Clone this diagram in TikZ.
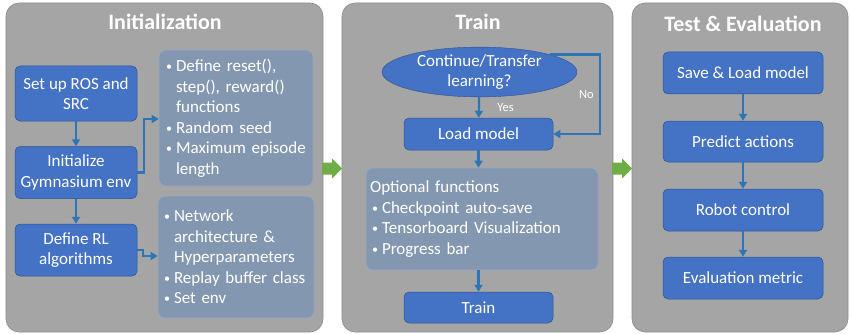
\documentclass[tikz,border=0pt]{standalone}
\usepackage{fontspec}
\setmainfont{Carlito}
\usepackage{tikz}
\usetikzlibrary{shapes.geometric,arrows.meta}

\definecolor{panelgray}{HTML}{A5A5A5}
\definecolor{paneledge}{HTML}{8C8C8C}
\definecolor{stepblue}{HTML}{4472C4}
\definecolor{stepedge}{HTML}{2F528F}
\definecolor{notegray}{HTML}{8497B0}
\definecolor{noteedge}{HTML}{9AA8BC}
\definecolor{linkblue}{HTML}{2E75B6}
\definecolor{flowgreen}{HTML}{70AD47}

\newcommand{\itm}[1]{\makebox[15pt][l]{\hspace{5pt}\raisebox{1pt}{\fontsize{12}{12}\selectfont\textbullet}}#1}
\newcommand{\cnt}{\hspace*{15pt}}

\tikzset{
  panel/.style={draw=paneledge, fill=panelgray, rounded corners=13pt, line width=0.6pt},
  ptitle/.style={text=white, font=\fontsize{22}{26}\selectfont\bfseries},
  stepbox/.style={draw=stepedge, fill=stepblue, rounded corners=5pt, text=white, align=center,
    inner sep=0pt, font=\fontsize{17}{20.5}\selectfont, line width=0.5pt},
  notebox/.style={draw=noteedge, fill=notegray, rounded corners=7pt, text=white, align=left,
    inner sep=0pt, font=\fontsize{17}{20.5}\selectfont, line width=0.6pt},
  conn/.style={draw=linkblue, line width=2.2pt, -{Triangle[length=7pt,width=8pt]}},
  lbl/.style={text=white, font=\fontsize{12.5}{15}\selectfont},
  flow/.style={fill=flowgreen},
}

\begin{document}
\begin{tikzpicture}[x=1pt, y=-1pt]
    \useasboundingbox (0, 0) rectangle (850, 334);

    % panels
    \node [panel, minimum width=317pt, minimum height=329pt] (pinit) at (164.5, 167.5) {};
    \node [panel, minimum width=271pt, minimum height=329pt] (ptrain) at (477.5, 167.5) {};
    \node [panel, minimum width=216pt, minimum height=329pt] (ptest) at (740, 167.5) {};
    \node [ptitle] (tinit) at (165, 22) {Initialization};
    \node [ptitle] (ttrain) at (478, 22) {Train};
    \node [ptitle] (ttest) at (743, 24) {Test \& Evaluation};

    \foreach \gx in {322, 612}
        \fill [flow] (\gx, 162.5) -- ++(10, 0) -- ++(0, -4) -- ++(10, 10) -- ++(-10, 10)
            -- ++(0, -4) -- ++(-10, 0) -- cycle;

    % initialization
    \node [stepbox, minimum width=122pt, minimum height=55pt] (setup) at (76, 93.5) {Set up ROS and\\SRC};
    \node [stepbox, minimum width=122pt, minimum height=52pt] (initenv) at (76, 172.5) {Initialize\\Gymnasium env};
    \node [stepbox, minimum width=122pt, minimum height=52pt] (defrl) at (76, 250) {Define RL\\algorithms};
    \node [notebox, minimum width=154pt, minimum height=136pt, text width=150pt] (envbox) at (236, 118)
        {\itm{Define reset(),}\\\cnt step(), reward()\\\cnt functions\\\itm{Random seed}\\\itm{Maximum episode}\\\cnt length};
    \node [notebox, minimum width=156pt, minimum height=122pt, text width=154pt] (algbox) at (236, 257)
        {\itm{Network}\\\cnt architecture \&\\\cnt Hyperparameters\\\itm{Replay buffer class}\\\itm{Set env}};

    \draw [conn] (setup) -- (initenv);
    \draw [conn] (initenv) -- (defrl);
    \draw [conn] (initenv.east) -- ++(7, 0) |- ([yshift=-1pt]envbox.west);
    \draw [conn] (defrl.east) -- ++(6, 0) |- ([yshift=1pt]algbox.west);

    % train
    \node [ellipse, fill=stepblue, draw=stepedge, text=white, inner sep=0pt, align=center,
        minimum width=195pt, minimum height=46pt, font=\fontsize{17}{20.5}\selectfont]
        (contq) at (479.5, 72) {Continue/Transfer\\learning?};
    \node [stepbox, minimum width=149pt, minimum height=32pt] (load) at (478.5, 134) {Load model};
    \node [notebox, minimum width=232pt, minimum height=102pt, text width=230pt] (optbox) at (482, 219)
        {\hspace*{3pt}Optional functions\\\itm{Checkpoint auto-save}\\\itm{Tensorboard Visualization}\\\itm{Progress bar}};
    \node [stepbox, minimum width=149pt, minimum height=31pt] (train) at (478.5, 307.5) {Train};

    \draw [conn] (contq) -- node [lbl, anchor=west, xshift=14pt] {Yes} (load);
    \draw [conn] (contq.14) -| ([xshift=47pt]load.east) node [pos=0.75, lbl, left, xshift=-2pt] {No} -- (load.east);
    \draw [conn] (load) -- (load |- optbox.north);
    \draw [conn] (load |- optbox.south) -- (train);

    % test and evaluation
    \node [stepbox, minimum width=160pt, minimum height=42pt] (save) at (743, 73) {Save \& Load model};
    \node [stepbox, minimum width=160pt, minimum height=41pt] (predict) at (743, 141.5) {Predict actions};
    \node [stepbox, minimum width=160pt, minimum height=42pt] (robot) at (743, 210) {Robot control};
    \node [stepbox, minimum width=160pt, minimum height=42pt] (evalm) at (743, 278) {Evaluation metric};

    \draw [conn] (save) -- (predict);
    \draw [conn] (predict) -- (robot);
    \draw [conn] (robot) -- (evalm);
\end{tikzpicture}
\end{document}
